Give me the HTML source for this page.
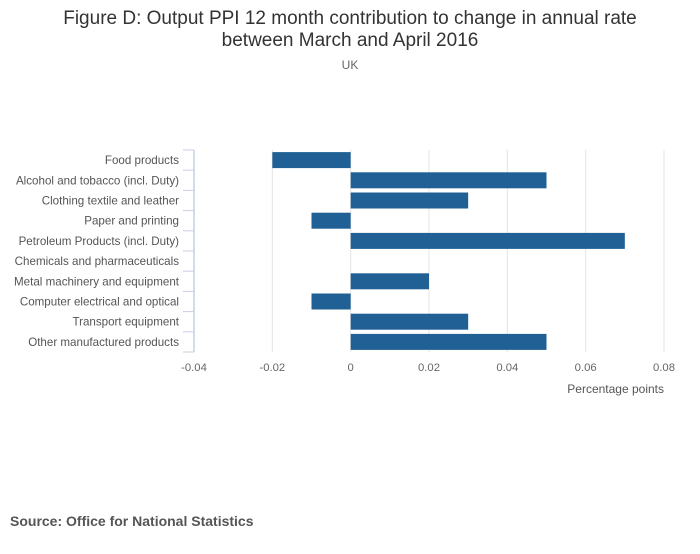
<!DOCTYPE html>
<html><head><meta charset="utf-8"><style>
body{margin:0;background:#fff;font-family:"Liberation Sans",sans-serif;}
</style></head><body>
<svg id="chart" width="700" height="549" xmlns="http://www.w3.org/2000/svg">
<text x="350" y="24" text-anchor="middle" font-size="19" fill="#333">Figure D: Output PPI 12 month contribution to change in annual rate</text>
<text x="350" y="46" text-anchor="middle" font-size="19" fill="#333">between March and April 2016</text>
<text x="350" y="69" text-anchor="middle" font-size="12" fill="#666">UK</text>
<g id="grid"></g><g id="bars"></g><g id="yaxis"></g><g id="xaxis"></g>
<text x="664" y="393" text-anchor="end" font-size="12" fill="#555">Percentage points</text>
<text x="10" y="526" font-size="14" font-weight="bold" fill="#555">Source: Office for National Statistics</text>
</svg>
<script>
const categories=["Food products","Alcohol and tobacco (incl. Duty)","Clothing textile and leather","Paper and printing","Petroleum Products (incl. Duty)","Chemicals and pharmaceuticals","Metal machinery and equipment","Computer electrical and optical","Transport equipment","Other manufactured products"];
const values=[-0.02,0.05,0.03,-0.01,0.07,0,0.02,-0.01,0.03,0.05];
const ticks=[-0.04,-0.02,0,0.02,0.04,0.06,0.08];
const tickLabels=["-0.04","-0.02","0","0.02","0.04","0.06","0.08"];
const NS="http://www.w3.org/2000/svg";
const x0=194,x1=664,xmin=-0.04,xmax=0.08,yTop=150,yBot=352;
const xs=v=>x0+(v-xmin)/(xmax-xmin)*(x1-x0);
const band=(yBot-yTop)/categories.length;
function mk(t,a,p){const e=document.createElementNS(NS,t);for(const k in a)e.setAttribute(k,a[k]);document.getElementById(p).appendChild(e);return e;}
ticks.forEach((t,i)=>{
 if(i>0){const g=mk('line',{x1:xs(t),x2:xs(t),y1:yTop,y2:yBot,stroke:'#e4e4e4','stroke-width':1},'grid');
 
 }
 const l=mk('text',{x:xs(t),y:371,'text-anchor':'middle','font-size':11.3,fill:'#666'},'xaxis');l.textContent=tickLabels[i];
 
 
});
const ax=mk('line',{x1:x0,x2:x0,y1:yTop,y2:yBot,stroke:'#c8cfe4','stroke-width':1.5},'yaxis');


for(let i=0;i<=categories.length;i++){
 const tk=mk('line',{x1:183,x2:x0,y1:yTop+i*band,y2:yTop+i*band,stroke:'#c8cfe4','stroke-width':1},'yaxis');
 
 
}
categories.forEach((c,i)=>{
 const cy=yTop+(i+0.5)*band;
 const l=mk('text',{x:179,y:cy+4,'text-anchor':'end','font-size':11.6,fill:'#555'},'yaxis');l.textContent=c;
 
 
 const v=values[i];
 const b=mk('rect',{x:Math.min(xs(0),xs(v)),y:cy-8,width:Math.abs(xs(v)-xs(0)),height:16,fill:'#206095'},'bars');
 
 
});
</script>
</body></html>
